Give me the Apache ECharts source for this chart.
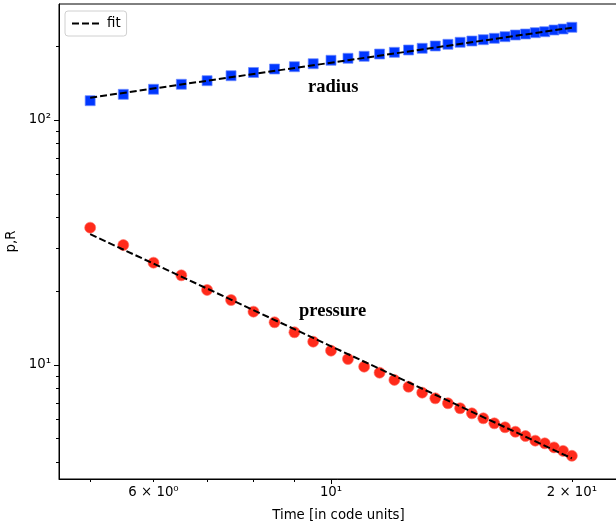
<!DOCTYPE html>
<html>
<head>
<meta charset="utf-8">
<script src="https://cdn.jsdelivr.net/npm/echarts@6/dist/echarts.min.js"></script>
<style>
html,body{margin:0;padding:0;background:#fff;}
#chart{width:616px;height:524px;}
</style>
</head>
<body>
<div id="chart"></div>
<script>
// ---- data ----
var time = [5,5.5,6,6.5,7,7.5,8,8.5,9,9.5,10,10.5,11,11.5,12,12.5,13,13.5,14,14.5,15,15.5,16,16.5,17,17.5,18,18.5,19,19.5,20];
var radius = [119.9,127.3,133.5,139.9,144.7,151.6,156.3,161.5,165.0,169.7,175.3,178.6,182.0,185.9,188.9,193.1,196.2,200.5,203.7,207.6,210.1,212.7,215.5,218.8,222.3,224.4,227.2,229.3,233.0,235.2,239.0];
var pressure = [36.35,30.88,26.16,23.23,20.24,18.42,16.51,14.94,13.60,12.45,11.44,10.58,9.84,9.30,8.69,8.15,7.71,7.31,6.98,6.66,6.35,6.06,5.78,5.57,5.34,5.13,4.91,4.79,4.61,4.46,4.26];
var fitTime = [5, 20];
var radiusFit = [123.3, 238.1];
var pressureFit = [34.2, 4.16];

var xLabelValues = [6, 10, 20];
var xLabelTexts = ['6 \u00d7 10\u2070', '10\u00b9', '2 \u00d7 10\u00b9'];
var xMajorTicks = [10];
var xMinorTicks = [5, 6, 7, 8, 9, 20];
var yLabelValues = [10, 100];
var yLabelTexts = ['10\u00b9', '10\u00b2'];
var yMinorTicks = [4, 5, 6, 7, 8, 9, 20, 30, 40, 50, 60, 70, 80, 90, 200];

var xRange = [4.571, 22.84];
var yRange = [3.425, 297.5];

function pairs(xs, ys) { return xs.map(function (x, i) { return [x, ys[i]]; }); }
function fmt(values, texts) {
  return function (v) {
    for (var i = 0; i < values.length; i++) {
      if (Math.abs(v - values[i]) / values[i] < 1e-6) return texts[i];
    }
    return '';
  };
}

var font = 'DejaVu Sans';
var fs = 13.3;
var chart = echarts.init(document.getElementById('chart'), null, {renderer: 'canvas'});
var axisLine = {show: true, lineStyle: {color: '#000', width: 1}};

var option = {
  animation: false,
  backgroundColor: '#fff',
  grid: {left: 59, top: 4, right: -2, bottom: 45, containLabel: false, outerBoundsMode: 'none',
         show: true, borderColor: '#000', borderWidth: 1, backgroundColor: 'transparent'},
  legend: {
    data: ['fit'], left: 65, top: 11, orient: 'vertical',
    itemWidth: 30, itemHeight: 10, itemGap: 4,
    padding: [6, 6, 6, 6],
    borderColor: '#d0d0d0', borderWidth: 1, borderRadius: 3,
    backgroundColor: 'rgba(255,255,255,0.8)',
    itemStyle: {opacity: 0},
    textStyle: {fontFamily: font, fontSize: fs, color: '#000'}
  },
  xAxis: [
    {
      type: 'log', min: xRange[0], max: xRange[1], gridIndex: 0,
      name: 'Time [in code units]', nameLocation: 'middle', nameGap: 30,
      nameTextStyle: {fontFamily: font, fontSize: fs, color: '#000'},
      axisLine: axisLine,
      axisTick: {show: true, customValues: xMinorTicks, length: 3, lineStyle: {color: '#000', width: 1}},
      axisLabel: {show: true, customValues: xLabelValues, formatter: fmt(xLabelValues, xLabelTexts), fontFamily: font, fontSize: fs, color: '#000', margin: 7},
      splitLine: {show: false}, minorTick: {show: false}
    },
    {
      type: 'log', min: xRange[0], max: xRange[1], gridIndex: 0, position: 'bottom',
      axisLine: {show: false},
      axisTick: {show: true, customValues: xMajorTicks, length: 5, lineStyle: {color: '#000', width: 1}},
      axisLabel: {show: false},
      splitLine: {show: false}
    }
  ],
  yAxis: [
    {
      type: 'log', min: yRange[0], max: yRange[1], gridIndex: 0,
      name: 'p,R', nameLocation: 'middle', nameGap: 34, nameRotate: 90,
      nameTextStyle: {fontFamily: font, fontSize: fs, color: '#000'},
      axisLine: axisLine,
      axisTick: {show: true, customValues: yLabelValues, length: 5, lineStyle: {color: '#000', width: 1}},
      axisLabel: {show: true, customValues: yLabelValues, formatter: fmt(yLabelValues, yLabelTexts), fontFamily: font, fontSize: fs, color: '#000', margin: 8},
      splitLine: {show: false}, minorTick: {show: false}
    },
    {
      type: 'log', min: yRange[0], max: yRange[1], gridIndex: 0, position: 'left',
      axisLine: {show: false},
      axisTick: {show: true, customValues: yMinorTicks, length: 3, lineStyle: {color: '#000', width: 1}},
      axisLabel: {show: false},
      splitLine: {show: false}
    }
  ],
  series: [
    {
      name: 'radius', type: 'scatter', xAxisIndex: 0, yAxisIndex: 0,
      symbol: 'rect', symbolSize: 10, z: 2,
      itemStyle: {color: '#0037ff', borderColor: 'rgba(110,140,255,0.7)', borderWidth: 1, opacity: 1},
      data: pairs(time, radius)
    },
    {
      name: 'pressure', type: 'scatter', xAxisIndex: 0, yAxisIndex: 0,
      symbol: 'circle', symbolSize: 11, z: 2,
      itemStyle: {color: '#ff2a1a', borderColor: 'rgba(255,110,100,0.6)', borderWidth: 1, opacity: 1},
      data: pairs(time, pressure)
    },
    {
      name: 'fit', type: 'line', xAxisIndex: 0, yAxisIndex: 0, z: 5,
      symbol: 'none', showSymbol: false,
      lineStyle: {color: '#000', width: 2, type: [7, 3]},
      itemStyle: {color: '#000'},
      data: pairs(fitTime, radiusFit)
    },
    {
      name: 'fit', type: 'line', xAxisIndex: 0, yAxisIndex: 0, z: 5,
      symbol: 'none', showSymbol: false,
      lineStyle: {color: '#000', width: 2, type: [7, 3]},
      itemStyle: {color: '#000'},
      data: pairs(fitTime, pressureFit)
    }
  ],
  graphic: [
    {type: 'text', left: 308, top: 78, z: 10,
     style: {text: 'radius', font: 'bold 18.5px "Liberation Serif"', fill: '#000'}},
    {type: 'text', left: 299, top: 302, z: 10,
     style: {text: 'pressure', font: 'bold 18.5px "Liberation Serif"', fill: '#000'}}
  ]
};
chart.setOption(option);
</script>
</body>
</html>
